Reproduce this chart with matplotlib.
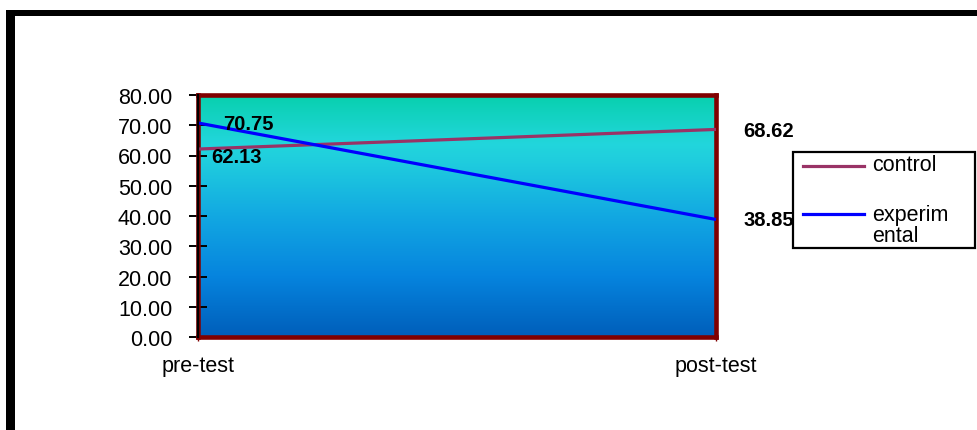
import matplotlib
matplotlib.use("Agg")
import matplotlib.pyplot as plt
import numpy as np
from matplotlib.colors import LinearSegmentedColormap
from matplotlib.patches import Rectangle
from matplotlib.lines import Line2D

# ---- data ----
categories = ["pre-test", "post-test"]
control = [62.13, 68.62]
experimental = [70.75, 38.85]
series_names = ["control", "experim\nental"]
yticks = [0, 10, 20, 30, 40, 50, 60, 70, 80]

plt.rcParams['font.family'] = ['Liberation Sans', 'DejaVu Sans']

W, H = 977, 431
fig = plt.figure(figsize=(W / 100, H / 100), dpi=100)
fig.patch.set_facecolor('white')

def fx(px):
    return px / W

def fy(py):
    return 1 - py / H

# outer black frame (left and top edges visible)
fig.add_artist(Rectangle((fx(6), 0), fx(9), fy(11), transform=fig.transFigure,
                         facecolor='black', edgecolor='none'))
fig.add_artist(Rectangle((fx(6), fy(17)), 1, fy(11) - fy(17), transform=fig.transFigure,
                         facecolor='black', edgecolor='none'))

ax = fig.add_axes([fx(198), fy(338), fx(716) - fx(198), fy(96) - fy(338)])

# gradient background
cmap = LinearSegmentedColormap.from_list('bg', [
    (0.0, '#005EBA'),
    (0.25, '#0684DE'),
    (0.5, '#12A8E2'),
    (0.72, '#1FCCDE'),
    (0.8, '#22D6DC'),
    (1.0, '#08D0AE'),
])
grad = np.linspace(0, 1, 256).reshape(-1, 1)
ax.imshow(grad, extent=[0, 1, 0, 1], transform=ax.transAxes, origin='lower',
          aspect='auto', cmap=cmap, zorder=0, interpolation='bicubic')

x = np.arange(len(categories))
ax.plot(x, control, color='#993366', lw=2.3, zorder=4, clip_on=False,
        solid_capstyle='butt')
ax.plot(x, experimental, color='#0000FF', lw=2.3, zorder=4, clip_on=False,
        solid_capstyle='butt')

ax.set_xlim(0, 1)
ax.set_ylim(0, 80)

for s in ax.spines.values():
    s.set_color('#800000')
    s.set_linewidth(3.3)
    s.set_zorder(3)

ax.axvline(0, color='black', lw=1.6, zorder=5, clip_on=False)

FS = 15.5
ax.set_yticks(yticks)
ax.set_yticklabels([f"{v:.2f}" for v in yticks])
ax.tick_params(axis='y', direction='inout', length=13, width=1.4, color='black',
               labelsize=FS, pad=12)
ax.set_xticks(x)
ax.set_xticklabels(categories)
ax.tick_params(axis='x', direction='out', length=3, width=1, color='#800000',
               labelsize=FS, pad=10)

# data labels
lab_kw = dict(textcoords='offset pixels', fontsize=14.5, fontweight='bold',
              va='center', ha='left', zorder=6, annotation_clip=False)
ax.annotate(f"{experimental[0]:.2f}", (x[0], experimental[0]), xytext=(25, -1), **lab_kw)
ax.annotate(f"{control[0]:.2f}", (x[0], control[0]), xytext=(13, -7), **lab_kw)
ax.annotate(f"{control[1]:.2f}", (x[1], control[1]), xytext=(27, -1), **lab_kw)
ax.annotate(f"{experimental[1]:.2f}", (x[1], experimental[1]), xytext=(27, 0), **lab_kw)

# legend (drawn manually)
fig.add_artist(Rectangle((fx(793), fy(249)), fx(975) - fx(793), fy(153) - fy(249),
                         transform=fig.transFigure, facecolor='white',
                         edgecolor='black', lw=1.6, zorder=10))
colors = ['#993366', '#0000FF']
ly = [167, 215]
for c, yy in zip(colors, ly):
    fig.add_artist(Line2D([fx(803), fx(864)], [fy(yy), fy(yy)], color=c, lw=2.3,
                          transform=fig.transFigure, zorder=11))

fig.text(fx(872), fy(166), series_names[0], fontsize=FS, ha='left', va='center', zorder=11)
fig.text(fx(872), fy(226), series_names[1], fontsize=FS, ha='left', va='center',
         zorder=11, linespacing=1.0)

fig.savefig('out.png', dpi=100)
